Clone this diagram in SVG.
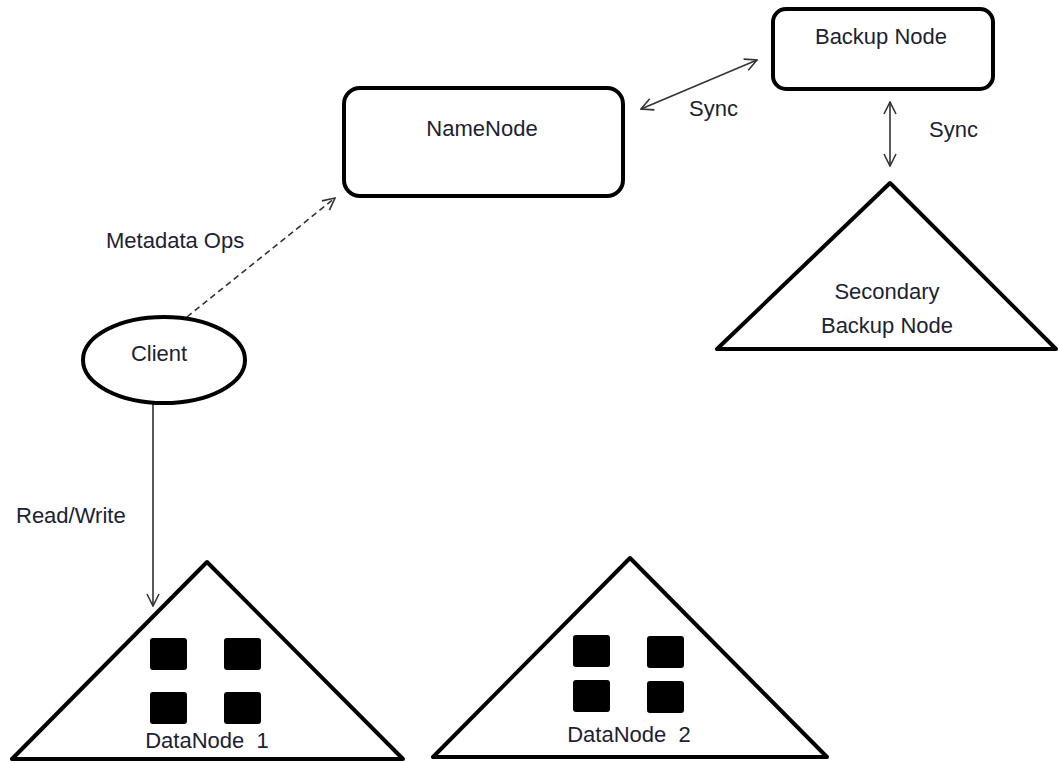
<svg xmlns="http://www.w3.org/2000/svg" width="1059" height="763" viewBox="0 0 1059 763">
  <style>
    .shape { fill: #ffffff; stroke: #000000; stroke-width: 4; stroke-linejoin: round; }
    .block { fill: #000000; }
    .label { font-family: "Liberation Sans", Arial, sans-serif; font-size: 22px; fill: #1c2233; text-anchor: middle; white-space: pre; }
    .edge-label { font-family: "Liberation Sans", Arial, sans-serif; font-size: 22px; fill: #1c2233; }
    .link { fill: none; stroke: #333333; stroke-width: 1.6; }
    .dashed { stroke-dasharray: 6 4; }
  </style>
  <defs>
    <marker id="open-arrow" viewBox="0 0 14 14" refX="13" refY="7" markerWidth="14" markerHeight="14" markerUnits="userSpaceOnUse" orient="auto-start-reverse">
      <path d="M1,1 L13,7 L1,13" fill="none" stroke="#333333" stroke-width="1.6"/>
    </marker>
  </defs>

  <rect width="1059" height="763" fill="#ffffff"/>

  <!-- connectors -->
  <g id="connectors">
    <line class="link" x1="641" y1="109" x2="757" y2="60" marker-start="url(#open-arrow)" marker-end="url(#open-arrow)"/>
    <text class="edge-label" x="689" y="116">Sync</text>
    <line class="link" x1="890" y1="102" x2="890" y2="166" marker-start="url(#open-arrow)" marker-end="url(#open-arrow)"/>
    <text class="edge-label" x="929" y="137">Sync</text>
    <line class="link dashed" x1="187" y1="317" x2="335" y2="198" marker-end="url(#open-arrow)"/>
    <text class="edge-label" x="106" y="248">Metadata Ops</text>
    <line class="link" x1="153" y1="404" x2="153" y2="606" marker-end="url(#open-arrow)"/>
    <text class="edge-label" x="16" y="523">Read/Write</text>
  </g>

  <!-- NameNode -->
  <g id="namenode">
    <rect class="shape" x="344" y="88" width="279" height="108" rx="16" ry="16"/>
    <text class="label" x="482" y="136">NameNode</text>
  </g>

  <!-- Backup Node -->
  <g id="backup-node">
    <rect class="shape" x="773" y="9" width="220" height="80" rx="13" ry="13"/>
    <text class="label" x="881" y="44">Backup Node</text>
  </g>

  <!-- Secondary Backup Node -->
  <g id="secondary-backup-node">
    <polygon class="shape" points="890,183 717,349 1056,349"/>
    <text class="label" x="887" y="299">Secondary</text>
    <text class="label" x="887" y="333">Backup Node</text>
  </g>

  <!-- Client -->
  <g id="client">
    <ellipse class="shape" cx="164" cy="360" rx="81" ry="43"/>
    <text class="label" x="159" y="361">Client</text>
  </g>

  <!-- DataNode 1 -->
  <g id="datanode-1">
    <polygon class="shape" points="207,562 12,759 403,759"/>
    <rect class="block" x="150" y="638" width="37" height="32" rx="3"/>
    <rect class="block" x="224" y="638" width="37" height="32" rx="3"/>
    <rect class="block" x="150" y="692" width="37" height="32" rx="3"/>
    <rect class="block" x="224" y="692" width="37" height="32" rx="3"/>
    <text class="label" x="207" y="748">DataNode  1</text>
  </g>

  <!-- DataNode 2 -->
  <g id="datanode-2">
    <polygon class="shape" points="630,558 433,757 827,757"/>
    <rect class="block" x="573" y="635" width="37" height="32" rx="3"/>
    <rect class="block" x="647" y="636" width="37" height="32" rx="3"/>
    <rect class="block" x="573" y="680" width="37" height="32" rx="3"/>
    <rect class="block" x="647" y="681" width="37" height="32" rx="3"/>
    <text class="label" x="629" y="742">DataNode  2</text>
  </g>
</svg>
